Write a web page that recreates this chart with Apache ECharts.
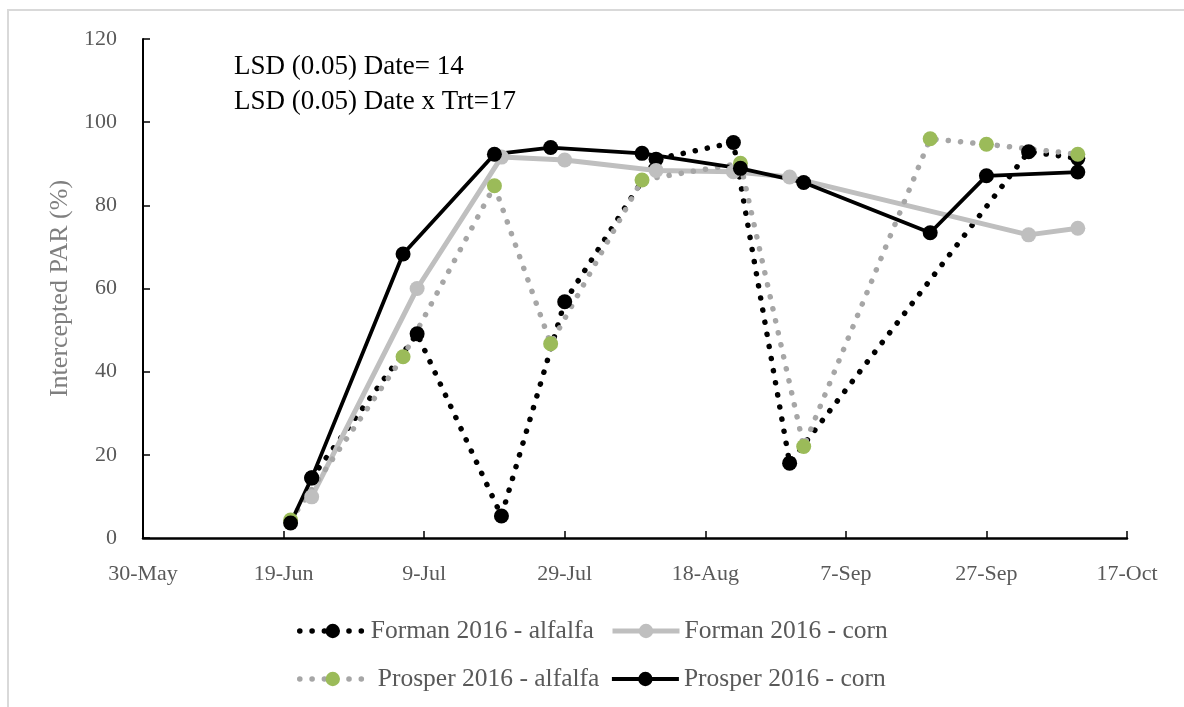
<!DOCTYPE html>
<html>
<head>
<meta charset="utf-8">
<script src="https://cdn.jsdelivr.net/npm/echarts@6.0.0/dist/echarts.min.js"></script>
<style>
  html, body { margin: 0; padding: 0; background: #fff; }
  #chart { width: 1184px; height: 707px; }
</style>
</head>
<body>
<div id="chart"></div>
<script>
// ---- Data ----
const xTickLabels = ['30-May', '19-Jun', '9-Jul', '29-Jul', '18-Aug', '7-Sep', '27-Sep', '17-Oct'];
const yTickValues = [0, 20, 40, 60, 80, 100, 120];

const formanDates = ['2016-06-23', '2016-07-08', '2016-07-20', '2016-07-29', '2016-08-11', '2016-08-22', '2016-08-30', '2016-10-03', '2016-10-10'];
const formanAlfalfa = [14.5, 49.1, 5.3, 56.8, 91.1, 95.1, 18.0, 92.9, 91.3];
const formanCorn = [9.9, 60.0, 91.6, 90.9, 88.4, 88.1, 86.8, 72.9, 74.5];

const prosperAlfalfaDates = ['2016-06-20', '2016-07-06', '2016-07-19', '2016-07-27', '2016-08-09', '2016-08-23', '2016-09-01', '2016-09-19', '2016-09-27', '2016-10-10'];
const prosperAlfalfa = [4.3, 43.6, 84.7, 46.7, 86.1, 90.1, 22.0, 96.0, 94.7, 92.3];

const prosperCornDates = ['2016-06-20', '2016-06-23', '2016-07-06', '2016-07-19', '2016-07-27', '2016-08-09', '2016-08-23', '2016-09-01', '2016-09-19', '2016-09-27', '2016-10-10'];
const prosperCorn = [3.6, 14.4, 68.3, 92.3, 93.9, 92.5, 88.9, 85.5, 73.4, 87.1, 88.0];

const annotations = ['LSD (0.05) Date= 14', 'LSD (0.05) Date x Trt=17'];

// ---- Helpers ----
const origin = Date.UTC(2016, 4, 30);
function dayOffset(s) {
  const p = s.split('-').map(Number);
  return (Date.UTC(p[0], p[1] - 1, p[2]) - origin) / 86400000;
}
function pairs(dates, vals) { return dates.map((d, i) => [dayOffset(d), vals[i]]); }

const FONT = 'Liberation Serif';
const chart = echarts.init(document.getElementById('chart'));

const legendCommon = {
  itemHeight: 18,
  lineStyle: { width: 'inherit', type: 'inherit', cap: 'inherit' }
};
const legendText = (pad) => ({ color: '#595959', fontSize: 25.5, fontFamily: FONT, padding: [0, 0, 0, pad] });

chart.setOption({
  animation: false,
  backgroundColor: '#fff',
  grid: { left: 143, right: 57, top: 39, bottom: 169, containLabel: false },
  xAxis: {
    type: 'value', min: 0, max: 140, interval: 20,
    axisLine: { show: true, lineStyle: { color: '#000', width: 2.5 } },
    axisTick: { show: true, inside: true, length: 7, lineStyle: { color: '#000', width: 1.5 } },
    splitLine: { show: false },
    axisLabel: {
      margin: 25, color: '#595959', fontSize: 22, fontFamily: FONT,
      formatter: v => xTickLabels[Math.round(v / 20)] || ''
    }
  },
  yAxis: {
    type: 'value', min: yTickValues[0], max: yTickValues[yTickValues.length - 1], interval: 20,
    axisLine: { show: true, lineStyle: { color: '#000', width: 2 } },
    axisTick: { show: true, inside: true, length: 7, lineStyle: { color: '#000', width: 1.5 } },
    splitLine: { show: false },
    axisLabel: { margin: 26, color: '#595959', fontSize: 22, fontFamily: FONT },
    name: 'Intercepted PAR (%)', nameLocation: 'middle', nameGap: 70,
    nameTextStyle: { color: '#7f7f7f', fontSize: 26, fontFamily: FONT }
  },
  legend: [
    Object.assign({ data: ['Forman 2016 - alfalfa'], left: 292, top: 613, itemWidth: 66, textStyle: legendText(0) }, legendCommon),
    Object.assign({ data: ['Forman 2016 - corn'], left: 605, top: 613, itemWidth: 67, textStyle: legendText(0) }, legendCommon),
    Object.assign({ data: ['Prosper 2016 - alfalfa'], left: 292, top: 661, itemWidth: 66, textStyle: legendText(7) }, legendCommon),
    Object.assign({ data: ['Prosper 2016 - corn'], left: 605, top: 661, itemWidth: 67, textStyle: legendText(0) }, legendCommon)
  ],
  graphic: [
    { type: 'rect', shape: { x: 8, y: 10, width: 1300, height: 900 }, style: { fill: 'none', stroke: '#d9d9d9', lineWidth: 2 }, silent: true, z: -1 },
    { type: 'text', left: 234, top: 53, style: { text: annotations[0], fill: '#000', font: '27px "Liberation Serif"' } },
    { type: 'text', left: 234, top: 88, style: { text: annotations[1], fill: '#000', font: '27px "Liberation Serif"' } }
  ],
  series: [
    {
      name: 'Forman 2016 - alfalfa', type: 'line', data: pairs(formanDates, formanAlfalfa),
      symbol: 'circle', symbolSize: 15,
      lineStyle: { color: '#000', width: 5.5, type: [0.1, 12.2], cap: 'round' },
      itemStyle: { color: '#000' }
    },
    {
      name: 'Forman 2016 - corn', type: 'line', data: pairs(formanDates, formanCorn),
      symbol: 'circle', symbolSize: 15,
      lineStyle: { color: '#bfbfbf', width: 5 },
      itemStyle: { color: '#bfbfbf' }
    },
    {
      name: 'Prosper 2016 - alfalfa', type: 'line', data: pairs(prosperAlfalfaDates, prosperAlfalfa),
      symbol: 'circle', symbolSize: 15,
      lineStyle: { color: '#a6a6a6', width: 5.5, type: [0.1, 12.2], cap: 'round' },
      itemStyle: { color: '#9bbb59' }
    },
    {
      name: 'Prosper 2016 - corn', type: 'line', data: pairs(prosperCornDates, prosperCorn),
      symbol: 'circle', symbolSize: 15,
      lineStyle: { color: '#000', width: 3.8 },
      itemStyle: { color: '#000' }
    }
  ]
});
</script>
</body>
</html>
